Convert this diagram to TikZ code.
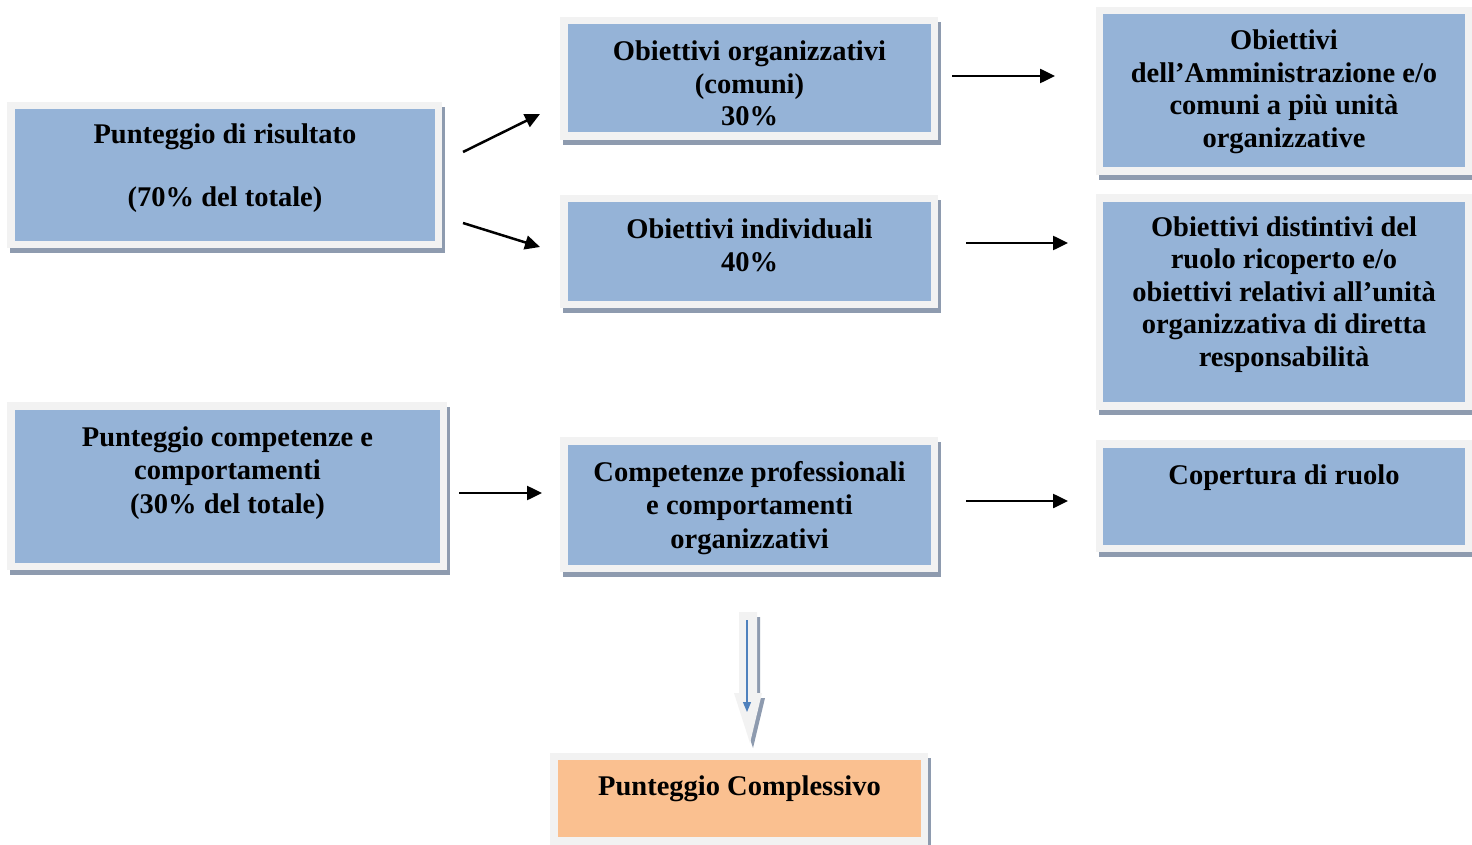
\documentclass[tikz,border=0pt]{standalone}
\usepackage{fontspec}
\setmainfont{Liberation Serif}
\usetikzlibrary{arrows.meta,shadows}
\definecolor{cardblue}{HTML}{95B3D7}
\definecolor{cardorange}{HTML}{FAC090}
\definecolor{framegray}{HTML}{F2F2F2}
\definecolor{shadowgray}{HTML}{8E9BAF}
\definecolor{linkblue}{HTML}{4F81BD}
% outline of the grey block arrow pointing to the final score
\newcommand\downblockpath{(739,612) -- (757,612) -- (757,693) -- (762,693) -- (750,743) -- (734,693) -- (739,693) -- cycle}
\begin{document}
\begin{tikzpicture}[x=1pt,y=-1pt,
  card/.style={rectangle, inner sep=0pt, fill=cardblue, draw=framegray, line width=7.5pt,
    drop shadow={shadow xshift=3pt, shadow yshift=-5pt, fill=shadowgray, draw=shadowgray,
      line width=7.5pt, opacity=1}},
  % texts are placed by the baseline of their last line
  txt/.style={font=\fontsize{28.5}{32.5}\selectfont\bfseries, align=center, anchor=base, inner sep=0pt},
  txtwide/.style={txt, font=\fontsize{28.5}{33.5}\selectfont\bfseries},
  link/.style={line width=2.5pt, -{Triangle[length=15pt,width=14pt]}}]
\useasboundingbox (0,0) rectangle (1472,845);
\fill[white] (0,0) rectangle (1472,845);

% boxes
\node[card, minimum width=427.5pt, minimum height=138.5pt] (res) at (224.5,175) {};
\node[card, minimum width=370.5pt, minimum height=115.5pt] (org) at (749,78.5) {};
\node[card, minimum width=369.5pt, minimum height=160.5pt] (amm) at (1284,91) {};
\node[card, minimum width=370.5pt, minimum height=105.5pt] (ind) at (749,251.5) {};
\node[card, minimum width=369.5pt, minimum height=207.5pt] (dis) at (1284,302) {};
\node[card, minimum width=432.5pt, minimum height=160.5pt] (comp) at (227,486) {};
\node[card, minimum width=370.5pt, minimum height=127.5pt] (prof) at (749,504.5) {};
\node[card, minimum width=369.5pt, minimum height=104.5pt] (cop) at (1284,496) {};
\node[card, fill=cardorange, minimum width=370.5pt, minimum height=84.5pt] (tot) at (739,798.5) {};

% texts
\node[txt] (resT) at (225,207) {Punteggio di risultato\\[30.5pt](70\% del totale)};
\node[txt] (orgT) at (749.5,126) {Obiettivi organizzativi\\(comuni)\\30\%};
\node[txt] (ammT) at (1284,147.5) {Obiettivi\\dell’Amministrazione e/o\\comuni a più unità\\organizzative};
\node[txt] (indT) at (749.5,271) {Obiettivi individuali\\40\%};
\node[txt] (disT) at (1284,366) {Obiettivi distintivi del\\ruolo ricoperto e/o\\obiettivi relativi all’unità\\organizzativa di diretta\\responsabilità};
\node[txtwide] (compT) at (227.5,513) {Punteggio competenze e\\comportamenti\\(30\% del totale)};
\node[txtwide] (profT) at (749.5,548) {Competenze professionali\\e comportamenti\\organizzativi};
\node[txt] (copT) at (1284,484) {Copertura di ruolo};
\node[txt] (totT) at (739.5,795) {Punteggio Complessivo};

% arrow end points
\coordinate (a1s) at (463,152);  \coordinate (a1e) at (540,114);
\coordinate (a2s) at (463,223);  \coordinate (a2e) at (540,247);
\coordinate (a3s) at (952,76);   \coordinate (a3e) at (1055,76);
\coordinate (a4s) at (966,243);  \coordinate (a4e) at (1068,243);
\coordinate (a5s) at (966,501);  \coordinate (a5e) at (1068,501);
\coordinate (a6s) at (459,493);  \coordinate (a6e) at (542,493);

\draw[link] (a1s) -- (a1e);
\draw[link] (a2s) -- (a2e);
\draw[link] (a3s) -- (a3e);
\draw[link] (a4s) -- (a4e);
\draw[link] (a5s) -- (a5e);
\draw[link] (a6s) -- (a6e);

% block arrow down to the final score
\fill[shadowgray, shift={(3,5)}] \downblockpath;
\fill[framegray] \downblockpath;
\coordinate (ds) at (747,620);
\coordinate (de) at (747,712);
\draw[linkblue, line width=1.2pt, -{Triangle[length=10pt,width=8pt]}] (ds) -- (de);
\end{tikzpicture}
\end{document}
